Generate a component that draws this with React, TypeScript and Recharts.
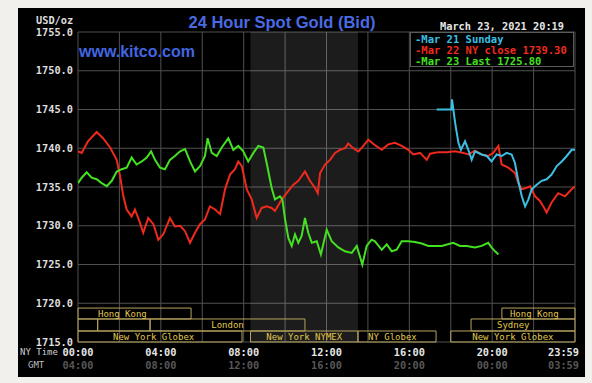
import React from 'react';
import { ComposedChart, Line, XAxis, YAxis, CartesianGrid, ReferenceArea } from 'recharts';

// hours after NY midnight and bid prices
const redHours = [0, 0.18, 0.48, 0.9, 1.21, 1.55, 1.87, 2.03, 2.19, 2.35, 2.59, 2.75, 2.99, 3.15, 3.39, 3.64, 3.88, 4.12, 4.44, 4.68,
    4.93, 5.17, 5.41, 5.65, 5.89, 6.13, 6.37, 6.62, 6.86, 7.1, 7.34, 7.58, 7.74, 7.91, 8.15, 8.39, 8.63, 8.87, 9.11, 9.35, 9.51,
    9.84, 10.16, 10.4, 10.64, 10.96, 11.2, 11.44, 11.58, 11.69, 11.93, 12.17, 12.41, 12.65, 12.89, 13.05, 13.29, 13.54, 13.78, 14.02, 14.34,
    14.67, 14.98, 15.31, 15.63, 15.95, 16.19, 16.52, 16.84, 17.0, 17.4, 17.8, 18.21, 18.61, 18.85, 19.17,
    19.49, 19.81, 20.05, 20.3, 20.46, 20.78, 21.1, 21.26, 21.43, 21.67, 21.83, 22.07, 22.31, 22.47, 22.63, 22.87, 23.19, 23.52, 23.84, 24];
const redValues = [1739.6, 1739.4, 1740.9, 1742.1, 1741.3, 1740.1, 1738.5, 1736.4, 1733.8, 1732.1, 1731.2, 1732.1, 1730.4, 1729.1, 1731.0, 1730.2, 1728.2, 1728.9, 1731.0, 1729.9,
    1730.0, 1729.3, 1727.8, 1729.1, 1730.2, 1730.8, 1732.5, 1732.1, 1731.5, 1734.7, 1736.6, 1737.3, 1738.3, 1737.7, 1734.7, 1733.4, 1731.0, 1732.3, 1732.5, 1732.3, 1731.9,
    1733.4, 1734.5, 1735.3, 1735.8, 1737.0, 1735.8, 1734.9, 1734.2, 1736.8, 1737.9, 1738.5, 1739.4, 1739.8, 1740.0, 1740.6, 1740.0, 1739.6, 1740.3, 1741.1, 1740.4,
    1739.8, 1740.5, 1740.7, 1740.3, 1739.8, 1739.2, 1739.4, 1738.5, 1739.3, 1739.5, 1739.5, 1739.6, 1739.4, 1739.2, 1739.7,
    1739.2, 1739.0, 1739.4, 1740.3, 1737.9, 1737.5, 1736.8, 1735.5, 1734.7, 1734.9, 1735.1, 1733.8, 1733.2, 1732.5, 1731.7, 1733.0, 1734.2, 1733.8, 1734.7, 1735.1];

const greenHours = [0, 0.18, 0.42, 0.66, 0.9, 1.14, 1.39, 1.63, 1.87, 2.11, 2.35, 2.59, 2.83, 3.08, 3.32, 3.53, 3.72, 3.96, 4.2, 4.44, 4.68,
    4.93, 5.17, 5.41, 5.65, 5.89, 6.13, 6.26, 6.46, 6.7, 6.94, 7.26, 7.5, 7.74, 7.98, 8.22, 8.47, 8.71, 8.95, 9.11, 9.35, 9.51,
    9.75, 9.87, 10.0, 10.16, 10.32, 10.48, 10.64, 10.8, 10.96, 11.12, 11.29, 11.53, 11.73, 12.01, 12.25, 12.57, 12.89, 13.22, 13.46, 13.73, 13.94, 14.18, 14.34,
    14.67, 14.91, 15.15, 15.39, 15.63, 15.95, 16.27, 16.6, 16.92, 17.56, 18.12, 18.45, 18.77, 19.17,
    19.49, 19.81, 19.97, 20.14, 20.3];
const greenValues = [1735.5, 1736.2, 1736.9, 1736.2, 1736.0, 1735.5, 1735.1, 1735.8, 1737.0, 1737.3, 1737.5, 1738.8, 1737.9, 1738.3, 1738.8, 1739.6, 1738.5, 1737.5, 1737.3, 1738.5, 1739.0,
    1739.6, 1739.9, 1738.3, 1737.0, 1737.7, 1739.0, 1741.3, 1739.4, 1739.0, 1740.1, 1741.3, 1739.8, 1740.3, 1739.6, 1738.3, 1739.4, 1740.3, 1740.1, 1738.1, 1734.9, 1733.4,
    1733.8, 1733.4, 1730.8, 1728.4, 1727.4, 1728.9, 1727.8, 1728.7, 1731.0, 1729.1, 1727.8, 1728.0, 1726.3, 1729.5, 1728.0, 1727.2, 1726.7, 1726.5, 1727.4, 1725.0, 1727.4, 1728.2, 1728.0,
    1726.9, 1727.6, 1726.7, 1726.9, 1728.0, 1728.0, 1727.9, 1727.7, 1727.4, 1727.4, 1727.8, 1727.4, 1727.4, 1727.2,
    1727.4, 1727.8, 1727.2, 1726.7, 1726.3];

const cyanHours = [17.32, 18.03, 18.06, 18.21, 18.37, 18.49, 18.69, 18.85, 19.01, 19.17, 19.49, 19.74, 19.97, 20.22, 20.46, 20.7, 20.94,
    21.1, 21.26, 21.43, 21.59, 21.75, 21.91, 22.15, 22.39, 22.63, 22.87, 23.12, 23.36, 23.6, 23.84, 24];
const cyanValues = [1745.0, 1745.0, 1746.3, 1743.3, 1740.7, 1739.8, 1740.9, 1739.8, 1738.5, 1739.6, 1739.2, 1739.0, 1738.3, 1739.2, 1739.0, 1739.4, 1739.2,
    1738.1, 1735.8, 1733.8, 1732.5, 1733.4, 1734.7, 1735.3, 1735.8, 1736.0, 1736.6, 1737.7, 1738.3, 1739.0, 1739.8, 1739.8];

const legendLabels = ['-Mar 21 Sunday', '-Mar 22 NY close 1739.30', '-Mar 23 Last 1725.80'];

const yTicks = [1715, 1720, 1725, 1730, 1735, 1740, 1745, 1750, 1755];
const xTicks = [0, 2, 4, 6, 8, 10, 12, 14, 16, 18, 20, 22, 24];
const labelHours = [0, 4, 8, 12, 16, 20, 24];
const nyLabels = ['00:00', '04:00', '08:00', '12:00', '16:00', '20:00', '23:59'];
const gmtLabels = ['04:00', '08:00', '12:00', '16:00', '20:00', '00:00', '03:59'];

// trading sessions strip under the chart
const sessionNames = ['Hong Kong', '', '', 'London', 'New York Globex', 'New York NYMEX', 'NY Globex', 'New York Globex', 'Sydney', 'Hong Kong'];
const sessionStart = [0, 0, 0.95, 3.48, 0, 8.33, 13.52, 18.0, 18.98, 20.47];
const sessionEnd = [5.46, 0.95, 3.48, 10.96, 7.92, 13.52, 17.29, 24, 24, 24];
const sessionRow = [0, 1, 1, 1, 2, 2, 2, 2, 1, 0];
const nymexHours = [8.33, 13.52];

const ROW_TOP = [1719.38, 1717.97, 1716.42];
const ROW_BOTTOM = [1717.97, 1716.42, 1715];
const LABEL_INSET = [20, 0, 0, -1, 35, -1, 10, -1, 26, 8]; // -1 = centred

const RED = '#ee2a1c';
const GREEN = '#44e022';
const CYAN = '#3cbfe2';
const MONO = '"DejaVu Sans Mono", monospace';

const redData = redHours.map((h, i) => ({ h, v: redValues[i] }));
const greenData = greenHours.map((h, i) => ({ h, v: greenValues[i] }));
const cyanData = cyanHours.map((h, i) => ({ h, v: cyanValues[i] }));

const TimeTick = (props: any) => {
    const { x, y, payload } = props;
    const idx = labelHours.indexOf(payload.value);
    if (idx < 0) return <g />;
    const last = payload.value === 24;
    const tx = last ? x + 4 : x;
    const anchor = last ? 'end' : 'middle';
    return (
        <g>
            <text x={tx} y={y + 14} textAnchor={anchor} fill="#e6e6e6" fontSize={10.3} fontFamily={MONO} fontWeight="bold">
                {nyLabels[idx]}
            </text>
            <text x={tx} y={y + 27} textAnchor={anchor} fill="#575757" fontSize={10.3} fontFamily={MONO} fontWeight="bold">
                {gmtLabels[idx]}
            </text>
        </g>
    );
};

export default function App() {
    return (
        <div style={{ position: 'fixed', left: 0, top: 0, width: 592, height: 383, background: '#f2f0ed' }}>
            <div style={{ position: 'absolute', left: 18, top: 8, width: 567, height: 369, background: '#000' }}>
                <ComposedChart width={567} height={369} margin={{ top: 24, right: 10, bottom: 0, left: 0 }}>
                    <ReferenceArea x1={nymexHours[0]} x2={nymexHours[1]} y1={1715} y2={1755} fill="#ffffff" fillOpacity={0.11} stroke="none" />
                    <CartesianGrid stroke="#505050" />
                    <XAxis type="number" dataKey="h" domain={[0, 24]} ticks={xTicks} interval={0} height={35}
                        tickSize={0} tickMargin={0} axisLine={false} tickLine={false} tick={<TimeTick />} allowDataOverflow />
                    <YAxis type="number" domain={[1715, 1755]} ticks={yTicks} interval={0} width={60}
                        tickSize={3} tickMargin={2} axisLine={false} tickLine={false} allowDataOverflow
                        tickFormatter={(v: number) => v.toFixed(1)}
                        tick={{ fill: '#dedede', fontSize: 10.3, fontFamily: MONO, fontWeight: 'bold' }} />
                    {sessionNames.map((name, i) => (
                        <ReferenceArea key={`s-${i}`} x1={sessionStart[i]} x2={sessionEnd[i]}
                            y1={ROW_BOTTOM[sessionRow[i]]} y2={ROW_TOP[sessionRow[i]]}
                            fill="none" stroke="#b8a45e" strokeWidth={1}
                            label={name ? {
                                value: name,
                                position: LABEL_INSET[i] < 0 ? 'center' : 'insideLeft',
                                offset: LABEL_INSET[i] < 0 ? 0 : LABEL_INSET[i],
                                fill: '#e2c84c', fontSize: 9, fontFamily: MONO,
                            } : undefined} />
                    ))}
                    <Line data={redData} dataKey="v" type="linear" stroke={RED} strokeWidth={2} dot={false} isAnimationActive={false} />
                    <Line data={greenData} dataKey="v" type="linear" stroke={GREEN} strokeWidth={2} dot={false} isAnimationActive={false} />
                    <Line data={cyanData} dataKey="v" type="linear" stroke={CYAN} strokeWidth={2} dot={false} isAnimationActive={false} />
                </ComposedChart>

                <div style={{ position: 'absolute', left: 114, top: 4, width: 300, textAlign: 'center', color: '#4a6ae2',
                    font: 'bold 16.5px "Liberation Sans", Arial, sans-serif', lineHeight: '20px' }}>
                    24 Hour Spot Gold (Bid)
                </div>
                <div style={{ position: 'absolute', left: 61, top: 34, color: '#4266e0',
                    font: 'bold 16px "Liberation Sans", Arial, sans-serif', lineHeight: '20px' }}>
                    www.kitco.com
                </div>
                <div style={{ position: 'absolute', left: 18, top: 6, color: '#dedede', fontFamily: MONO, fontWeight: 'bold',
                    fontSize: 10.3, lineHeight: '12px' }}>
                    USD/oz
                </div>
                <div style={{ position: 'absolute', left: 422, top: 12, color: '#e6e6e6', fontFamily: MONO, fontWeight: 'bold',
                    fontSize: 10.3, lineHeight: '12px', whiteSpace: 'pre' }}>
                    March 23, 2021 20:19
                </div>
                <div style={{ position: 'absolute', left: 392, top: 24, width: 164, height: 35, background: '#000',
                    border: '1px solid #5c5c5c', boxSizing: 'border-box', paddingTop: 1, paddingLeft: 4,
                    fontFamily: MONO, fontWeight: 'bold', fontSize: 10.5, lineHeight: '11px', whiteSpace: 'pre' }}>
                    <div style={{ color: CYAN }}>{legendLabels[0]}</div>
                    <div style={{ color: RED }}>{legendLabels[1]}</div>
                    <div style={{ color: GREEN }}>{legendLabels[2]}</div>
                </div>
                <div style={{ position: 'absolute', left: 2, top: 338, color: '#cfcfcf', fontFamily: MONO,
                    fontSize: 9, lineHeight: '12px', whiteSpace: 'pre' }}>
                    NY Time
                </div>
                <div style={{ position: 'absolute', left: 10, top: 351, color: '#bdbdbd', fontFamily: MONO,
                    fontSize: 9, lineHeight: '12px' }}>
                    GMT
                </div>
            </div>
        </div>
    );
}
